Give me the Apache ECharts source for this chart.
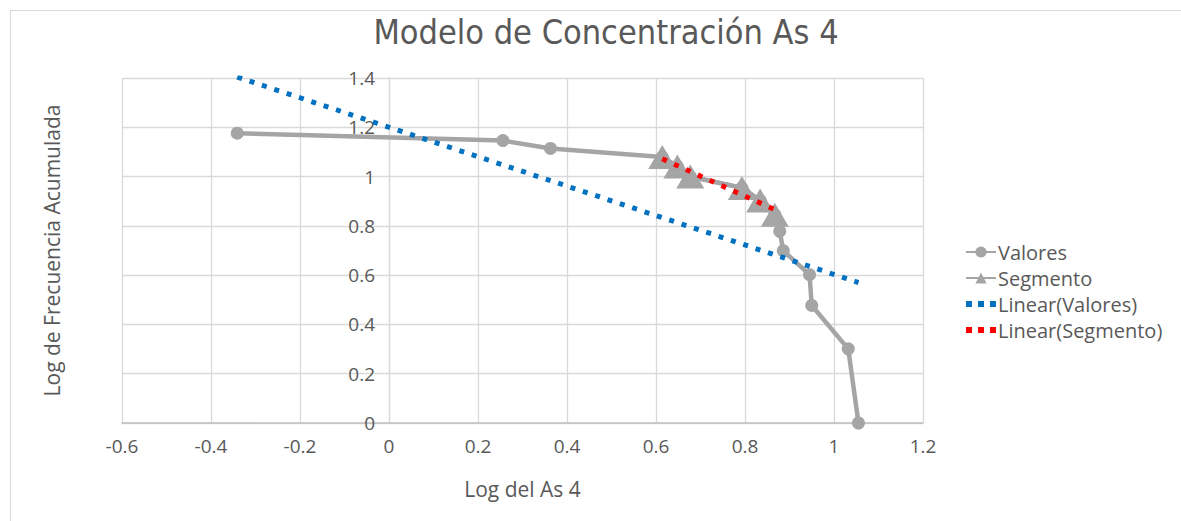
<!DOCTYPE html>
<html><head><meta charset="utf-8">
<script src="https://cdn.jsdelivr.net/npm/echarts@6/dist/echarts.min.js"></script>
<style>html,body{margin:0;padding:0;background:#fff}#c{width:1181px;height:521px}</style>
</head><body><div id="c"></div>
<script>
const titleText = 'Modelo de Concentración As 4';
const xAxisName = 'Log del As 4';
const yAxisName = 'Log de Frecuencia Acumulada';
const seriesNames = ['Valores', 'Segmento', 'Linear(Valores)', 'Linear(Segmento)'];

const valoresX = [-0.341, 0.256, 0.363, 0.614, 0.648, 0.677, 0.793, 0.834, 0.867, 0.878, 0.886, 0.945, 0.950, 1.032, 1.055];
const valoresY = [1.176, 1.146, 1.114, 1.079, 1.041, 1.000, 0.954, 0.903, 0.845, 0.778, 0.699, 0.602, 0.477, 0.301, 0.000];

const segmentoX = [0.614, 0.648, 0.677, 0.793, 0.834, 0.867];
const segmentoY = [1.079, 1.041, 1.000, 0.954, 0.903, 0.845];

const trendValoresX = [-0.341, 1.055];
const trendValoresY = [1.404, 0.570];
const trendSegmentoX = [0.614, 0.867];
const trendSegmentoY = [1.072, 0.866];

const pairs = (xs, ys) => xs.map((x, i) => [x, ys[i]]);

const labelFont = '"Open Sans", "Noto Sans", sans-serif';
const textColor = '#595959';
const dotIcon = 'path://M0,0h5v5h-5zM10,0h5v5h-5zM20,0h5v5h-5z';

const gridLeft = 122, gridRight = 258;
const xMin = -0.6, xMax = 1.2;
const plotW = 1181 - gridLeft - gridRight;
const zeroOffset = (0 - xMin) / (xMax - xMin) * plotW;

const chart = echarts.init(document.getElementById('c'), null, {renderer: 'svg'});
chart.setOption({
  animation: false,
  backgroundColor: '#fff',
  title: {
    text: titleText,
    left: 601,
    textAlign: 'center',
    top: 10,
    textStyle: {fontFamily: '"Liberation Sans Narrow", "DejaVu Sans Condensed", sans-serif', fontWeight: 'normal', fontSize: 34, color: textColor}
  },
  graphic: [{
    type: 'rect', shape: {x: 10.5, y: 10.5, width: 1300, height: 700},
    style: {fill: 'none', stroke: '#d9d9d9', lineWidth: 1}, silent: true, z: -10
  }],
  legend: {
    orient: 'vertical',
    left: 960,
    top: 237,
    itemWidth: 30,
    itemHeight: 14,
    itemGap: 6,
    textStyle: {fontFamily: labelFont, fontSize: 20, color: textColor, padding: [0, 0, 0, -3]},
    data: [
      {name: seriesNames[0]},
      {name: seriesNames[1]},
      {name: seriesNames[2], icon: dotIcon, itemStyle: {color: '#0070c0'}},
      {name: seriesNames[3], icon: dotIcon, itemStyle: {color: '#ff0000'}}
    ]
  },
  grid: {left: gridLeft, right: gridRight, top: 78, bottom: 98, containLabel: false, outerBoundsMode: 'none'},
  xAxis: {
    type: 'value', min: xMin, max: xMax, interval: 0.2,
    name: xAxisName, nameLocation: 'middle', nameGap: 55,
    nameTextStyle: {fontFamily: labelFont, fontSize: 21, color: textColor},
    axisLine: {show: true, onZero: false, lineStyle: {color: '#bfbfbf', width: 1.5}},
    axisTick: {show: false},
    axisLabel: {fontFamily: labelFont, fontSize: 19, color: textColor, margin: 13},
    splitLine: {show: true, lineStyle: {color: '#d9d9d9', width: 1.3}}
  },
  yAxis: {
    type: 'value', min: 0, max: 1.4, interval: 0.2,
    position: 'left', offset: -zeroOffset,
    name: yAxisName, nameLocation: 'middle', nameGap: 327, nameRotate: 90,
    nameTextStyle: {fontFamily: labelFont, fontSize: 21, color: textColor},
    axisLine: {show: true, onZero: false, lineStyle: {color: '#d9d9d9', width: 1.3}},
    axisTick: {show: false},
    axisLabel: {fontFamily: labelFont, fontSize: 19, color: textColor, margin: 14},
    splitLine: {show: true, lineStyle: {color: '#d9d9d9', width: 1.3}}
  },
  series: [
    {
      name: seriesNames[0], type: 'line', data: pairs(valoresX, valoresY),
      symbol: 'circle', symbolSize: 13, showSymbol: true,
      lineStyle: {color: '#a5a5a5', width: 4.5},
      itemStyle: {color: '#a5a5a5'}, z: 2
    },
    {
      name: seriesNames[1], type: 'line', data: pairs(segmentoX, segmentoY),
      symbol: 'triangle', symbolSize: [28, 24],
      lineStyle: {color: '#a5a5a5', width: 4.5},
      itemStyle: {color: '#a5a5a5'}, z: 3
    },
    {
      name: seriesNames[2], type: 'line', data: pairs(trendValoresX, trendValoresY),
      symbol: 'none',
      lineStyle: {color: '#0070c0', width: 5, type: [5, 8]},
      itemStyle: {color: '#0070c0'}, z: 4
    },
    {
      name: seriesNames[3], type: 'line', data: pairs(trendSegmentoX, trendSegmentoY),
      symbol: 'none',
      lineStyle: {color: '#ff0000', width: 5, type: [5, 8]},
      itemStyle: {color: '#ff0000'}, z: 5
    }
  ]
});
</script>
</body></html>
